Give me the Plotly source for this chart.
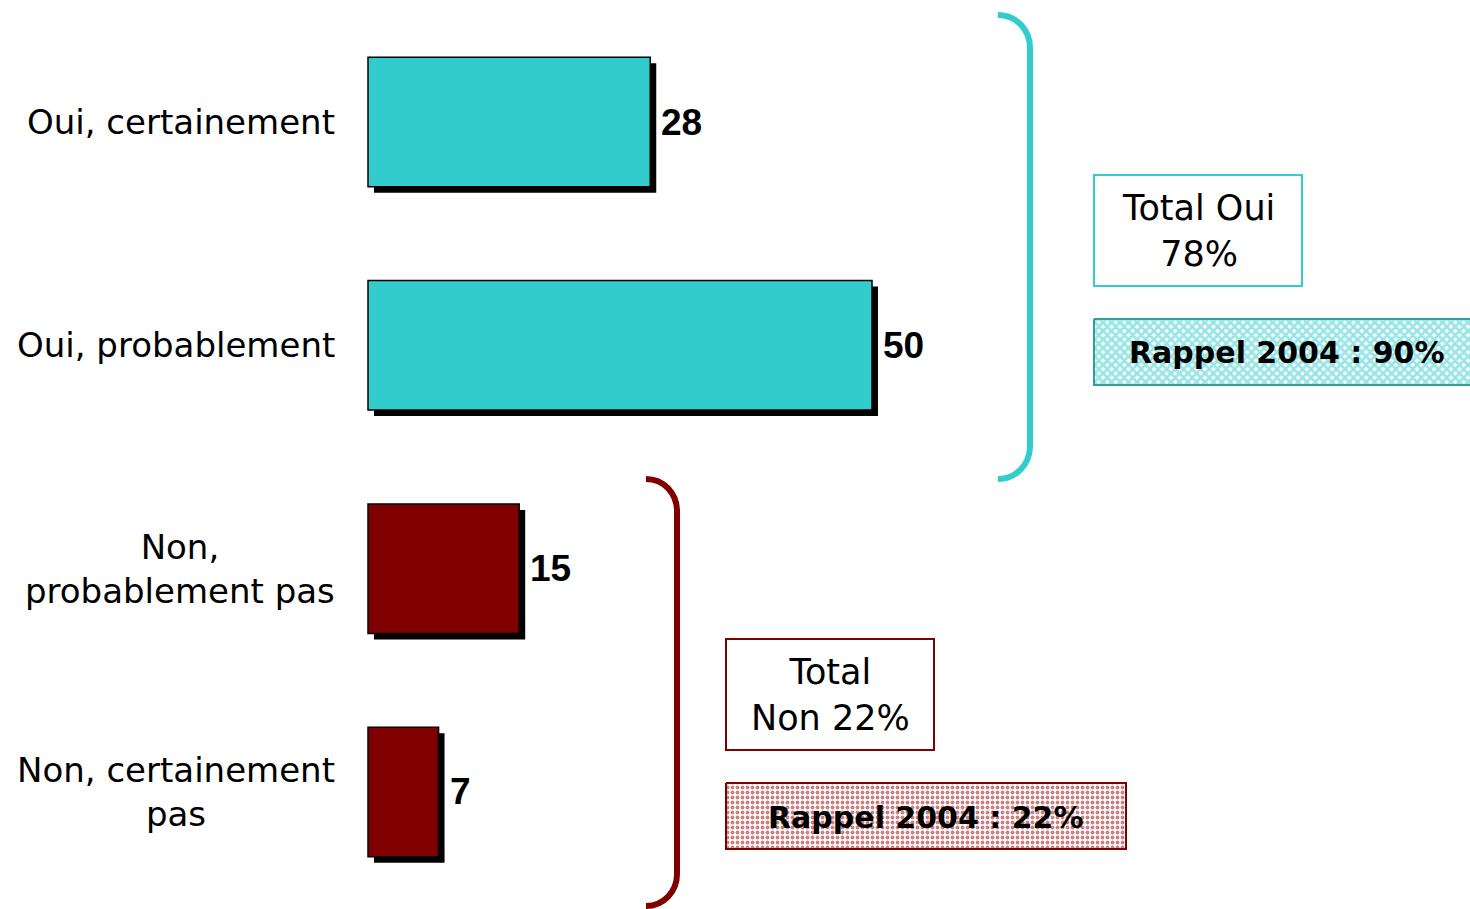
import plotly.graph_objects as go

# ---- data ----
categories = ["Oui, certainement", "Oui, probablement", "Non, probablement pas", "Non, certainement pas"]
label_text = ["Oui, certainement", "Oui, probablement", "Non,<br>probablement pas", "Non, certainement<br>pas"]
values = [28, 50, 15, 7]
bar_colors = ["#33CCCC", "#33CCCC", "#800000", "#800000"]
total_oui = "Total Oui<br>78%"
total_non = "Total<br>Non 22%"
rappel_oui = "Rappel 2004 : 90%"
rappel_non = "Rappel 2004 : 22%"

W, H = 1470, 909
px_per_unit = 10.08
x0_px = 368
row_px = 223.33
first_row_px = 122

x_range = [-x0_px / px_per_unit, (W - x0_px) / px_per_unit]
y_range = [(H - first_row_px) / row_px, -first_row_px / row_px]

bar_w = 0.58
shadow_dx = 6 / px_per_unit
shadow_dy = 6 / row_px

fig = go.Figure()

# shadow bars
fig.add_trace(go.Bar(
    y=categories, x=values, base=shadow_dx, orientation="h",
    width=bar_w, offset=-bar_w / 2 + shadow_dy,
    marker=dict(color="black", line=dict(width=0)),
    hoverinfo="skip", showlegend=False,
))
# main bars
fig.add_trace(go.Bar(
    y=categories, x=values, orientation="h",
    width=bar_w, offset=-bar_w / 2,
    marker=dict(color=bar_colors, line=dict(color="black", width=1.5)),
    showlegend=False,
))

# patterned "Rappel" boxes on pixel overlay axes
def box_trace(x0, y0, x1, y1, fg, border, shape, size, solidity):
    return go.Scatter(
        x=[x0, x1, x1, x0, x0], y=[y0, y0, y1, y1, y0],
        xaxis="x2", yaxis="y2", mode="lines", fill="toself",
        line=dict(color=border, width=2),
        fillcolor="white",
        fillpattern=dict(shape=shape, fgcolor=fg, bgcolor="white", size=size, solidity=solidity),
        hoverinfo="skip", showlegend=False,
    )

fig.add_trace(box_trace(1094, 319, 1490, 385, "#33CCCC", "#2E9E9E", "x", 6, 0.7))
fig.add_trace(box_trace(726, 783, 1126, 849, "#990000", "#800000", ".", 5, 0.45))

annotations = []
# category labels
for cat, lab in zip(categories, label_text):
    annotations.append(dict(
        x=337 / W, xref="paper", y=cat, yref="y", text=lab, showarrow=False,
        xanchor="right", yanchor="middle", align="center",
        font=dict(family="DejaVu Sans", size=34, color="black"),
    ))
# value labels
for cat, v in zip(categories, values):
    annotations.append(dict(
        x=v, xref="x", y=cat, yref="y", text=str(v), showarrow=False,
        xanchor="left", yanchor="middle", xshift=9,
        font=dict(family="Liberation Sans", size=37, color="black", weight="bold"),
    ))
# box texts
annotations += [
    dict(x=1198, y=231, xref="x2", yref="y2", text=total_oui, showarrow=False,
         font=dict(family="DejaVu Sans", size=35, color="black"), align="center"),
    dict(x=1287, y=352, xref="x2", yref="y2", text=rappel_oui, showarrow=False,
         font=dict(family="DejaVu Sans", size=30, color="black", weight="bold")),
    dict(x=830, y=695, xref="x2", yref="y2", text=total_non, showarrow=False,
         font=dict(family="DejaVu Sans", size=35, color="black"), align="center"),
    dict(x=926, y=817, xref="x2", yref="y2", text=rappel_non, showarrow=False,
         font=dict(family="DejaVu Sans", size=30, color="black", weight="bold")),
]

def brace(xl, xr, yt, yb, r):
    k = 0.552 * r
    return (f"M {xl} {yt} C {xl + k} {yt} {xr} {yt + r - k} {xr} {yt + r} "
            f"L {xr} {yb - r} C {xr} {yb - r + k} {xl + k} {yb} {xl} {yb}")

shapes = [
    dict(type="path", xref="x2", yref="y2", path=brace(998, 1030, 15, 479, 33),
         line=dict(color="#33CCCC", width=6)),
    dict(type="path", xref="x2", yref="y2", path=brace(646, 677, 479, 906, 32),
         line=dict(color="#800000", width=6)),
    dict(type="rect", xref="x2", yref="y2", x0=1094, x1=1302, y0=175, y1=286,
         line=dict(color="#33CCCC", width=2), fillcolor="rgba(0,0,0,0)"),
    dict(type="rect", xref="x2", yref="y2", x0=726, x1=934, y0=639, y1=750,
         line=dict(color="#800000", width=2), fillcolor="rgba(0,0,0,0)"),
]

fig.update_layout(
    width=W, height=H,
    margin=dict(l=0, r=0, t=0, b=0),
    paper_bgcolor="white", plot_bgcolor="white",
    barmode="overlay",
    xaxis=dict(range=x_range, visible=False, fixedrange=True),
    yaxis=dict(range=y_range, visible=False, type="category",
               categoryorder="array", categoryarray=categories, fixedrange=True),
    xaxis2=dict(range=[0, W], overlaying="x", visible=False, anchor="y2", fixedrange=True),
    yaxis2=dict(range=[H, 0], overlaying="y", visible=False, anchor="x2", fixedrange=True),
    annotations=annotations,
    shapes=shapes,
    showlegend=False,
)

fig.write_html("out.html", config={"displayModeBar": False},
               post_script="document.body.style.margin='0';document.body.style.overflow='hidden';")
